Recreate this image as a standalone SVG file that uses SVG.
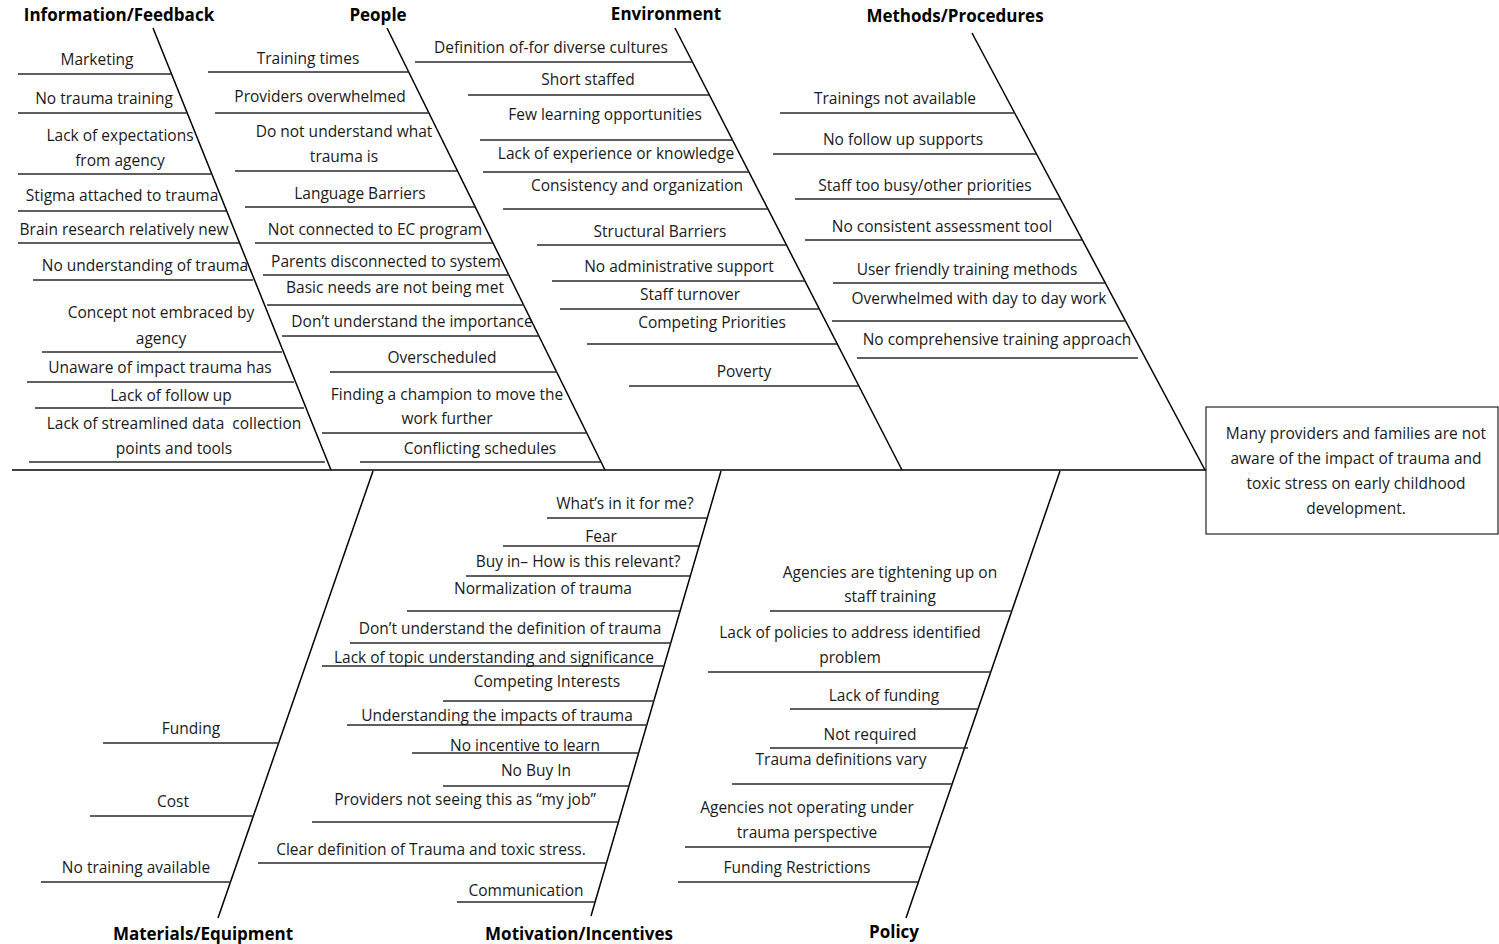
<svg xmlns="http://www.w3.org/2000/svg" width="1499" height="944" viewBox="0 0 1499 944">
<style>
text{font-family:"Open Sans","Liberation Sans",sans-serif;font-size:15.5px;fill:#1a1a1a;text-anchor:middle}
.t{font-weight:bold;font-size:17px;fill:#000}
.r{stroke:#2a2a2a;stroke-width:1.3;fill:none}
.b{stroke:#000;stroke-width:1.5;fill:none}
.pre{white-space:pre}
</style>
<rect width="1499" height="944" fill="#fff"/>
<g id="connectors">
<line class="b" x1="12" y1="470" x2="1206" y2="470"/>
<line class="b" x1="153" y1="28" x2="331" y2="470"/>
<line class="b" x1="387" y1="28" x2="605" y2="470"/>
<line class="b" x1="675" y1="28" x2="902" y2="470"/>
<line class="b" x1="972" y1="33" x2="1205" y2="470"/>
<line class="b" x1="373" y1="471" x2="218" y2="918"/>
<line class="b" x1="721" y1="471" x2="591" y2="916"/>
<line class="b" x1="1060" y1="471" x2="906" y2="918"/>
</g>
<g id="effect">
<rect x="1206" y="407" width="292" height="127" fill="#fff" stroke="#222" stroke-width="1.2"/>
<text x="1356" y="439">Many providers and families are not</text>
<text x="1356" y="464">aware of the impact of trauma and</text>
<text x="1356" y="489">toxic stress on early childhood</text>
<text x="1356" y="514">development.</text>
</g>
<g id="information-feedback">
<text class="t" x="119" y="21">Information/Feedback</text>
<path class="r" d="M18 74H171M18 113H187M18 174H211M18 211H226M18 243H239M33 280H253M42 352H282M27 382H294M35 408H304M29 462H325"/>
<text x="97" y="65">Marketing</text>
<text x="104" y="104">No trauma training</text>
<text x="120" y="141">Lack of expectations</text>
<text x="120" y="166">from agency</text>
<text x="122" y="201">Stigma attached to trauma</text>
<text x="124" y="235">Brain research relatively new</text>
<text x="145" y="271">No understanding of trauma</text>
<text x="161" y="318">Concept not embraced by</text>
<text x="161" y="344">agency</text>
<text x="160" y="373">Unaware of impact trauma has</text>
<text x="171" y="401">Lack of follow up</text>
<text class="pre" x="174" y="429">Lack of streamlined data  collection</text>
<text x="174" y="454">points and tools</text>
</g>
<g id="people">
<text class="t" x="378" y="21">People</text>
<path class="r" d="M208 72H409M215 113H429M235 171H457M245 207H475M255 243H493M263 275H509M267 305H524M282 336H539M330 372H557M322 433H587M360 462H601"/>
<text x="308" y="64">Training times</text>
<text x="320" y="102">Providers overwhelmed</text>
<text x="344" y="137">Do not understand what</text>
<text x="344" y="162">trauma is</text>
<text x="360" y="199">Language Barriers</text>
<text x="375" y="235">Not connected to EC program</text>
<text x="386" y="267">Parents disconnected to system</text>
<text x="395" y="293">Basic needs are not being met</text>
<text x="412" y="327">Don’t understand the importance</text>
<text x="442" y="363">Overscheduled</text>
<text x="447" y="400">Finding a champion to move the</text>
<text x="447" y="424">work further</text>
<text x="480" y="454">Conflicting schedules</text>
</g>
<g id="environment">
<text class="t" x="666" y="20">Environment</text>
<path class="r" d="M415 62H692M468 95H709M480 140H733M483 172H749M503 209H768M537 245H786M552 281H805M560 309H819M587 344H837M629 386H859"/>
<text x="551" y="53">Definition of-for diverse cultures</text>
<text x="588" y="85">Short staffed</text>
<text x="605" y="120">Few learning opportunities</text>
<text x="616" y="159">Lack of experience or knowledge</text>
<text x="637" y="191">Consistency and organization</text>
<text x="660" y="237">Structural Barriers</text>
<text x="679" y="272">No administrative support</text>
<text x="690" y="300">Staff turnover</text>
<text x="712" y="328">Competing Priorities</text>
<text x="744" y="377">Poverty</text>
</g>
<g id="methods-procedures">
<text class="t" x="955" y="22">Methods/Procedures</text>
<path class="r" d="M780 113H1015M773 154H1036M795 199H1060M805 240H1082M833 283H1105M832 321H1126M857 358H1138"/>
<text x="895" y="104">Trainings not available</text>
<text x="903" y="145">No follow up supports</text>
<text x="925" y="191">Staff too busy/other priorities</text>
<text x="942" y="232">No consistent assessment tool</text>
<text x="967" y="275">User friendly training methods</text>
<text x="979" y="304">Overwhelmed with day to day work</text>
<text x="997" y="345">No comprehensive training approach</text>
</g>
<g id="materials-equipment">
<text class="t" x="203" y="940">Materials/Equipment</text>
<path class="r" d="M103 743H279M90 816H254M41 882H231"/>
<text x="191" y="734">Funding</text>
<text x="173" y="807">Cost</text>
<text x="136" y="873">No training available</text>
</g>
<g id="motivation-incentives">
<text class="t" x="579" y="940">Motivation/Incentives</text>
<path class="r" d="M547 518H707M503 546H699M466 576H690M407 611H680M350 643H671M322 666H664M443 701H654M347 725H647M412 753H639M443 786H629M312 822H618M258 863H607M457 902H595"/>
<text x="625" y="509">What’s in it for me?</text>
<text x="601" y="542">Fear</text>
<text x="578" y="567">Buy in– How is this relevant?</text>
<text x="543" y="594">Normalization of trauma</text>
<text x="510" y="634">Don’t understand the definition of trauma</text>
<text x="494" y="663">Lack of topic understanding and significance</text>
<text x="547" y="687">Competing Interests</text>
<text x="497" y="721">Understanding the impacts of trauma</text>
<text x="525" y="751">No incentive to learn</text>
<text x="536" y="776">No Buy In</text>
<text x="465" y="805">Providers not seeing this as “my job”</text>
<text x="431" y="855">Clear definition of Trauma and toxic stress.</text>
<text x="526" y="896">Communication</text>
</g>
<g id="policy">
<text class="t" x="894" y="938">Policy</text>
<path class="r" d="M770 611H1012M708 672H991M790 709H978M770 748H968M732 784H952M685 847H930M678 882H918"/>
<text x="890" y="578">Agencies are tightening up on</text>
<text x="890" y="602">staff training</text>
<text x="850" y="638">Lack of policies to address identified</text>
<text x="850" y="663">problem</text>
<text x="884" y="701">Lack of funding</text>
<text x="870" y="740">Not required</text>
<text x="841" y="765">Trauma definitions vary</text>
<text x="807" y="813">Agencies not operating under</text>
<text x="807" y="838">trauma perspective</text>
<text x="797" y="873">Funding Restrictions</text>
</g>
</svg>
